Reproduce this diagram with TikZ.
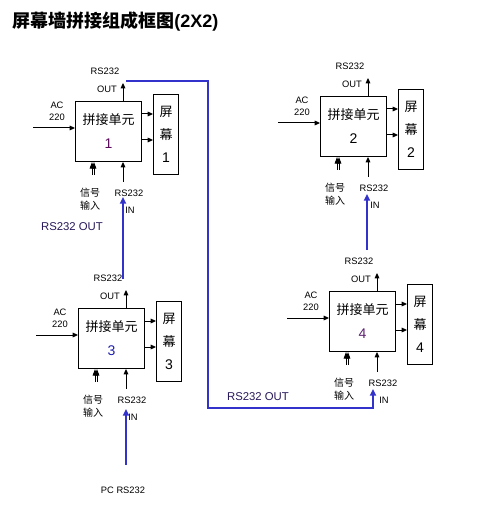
\documentclass[tikz,border=0pt]{standalone}
\usepackage{fontspec}
\setmainfont{Liberation Sans}
\newfontfamily\cjk{Noto Sans CJK SC}
\usetikzlibrary{arrows.meta,positioning}
\definecolor{busblue}{RGB}{51,51,204}
\definecolor{navytext}{RGB}{40,24,90}
\definecolor{numA}{RGB}{90,10,90}
\definecolor{numC}{RGB}{30,30,170}
\definecolor{numD}{RGB}{90,30,110}

\begin{document}
\begin{tikzpicture}[x=0.75pt,y=-0.75pt,
  every node/.style={inner sep=0pt},
  unit/.style={draw,line width=0.75pt,minimum width=49.5pt,minimum height=45pt,
    align=center,font=\cjk\fontsize{9.75}{18}\selectfont},
  screen/.style={draw,line width=0.75pt,minimum width=18.75pt,minimum height=60pt,
    align=center,font=\cjk\fontsize{9.75}{17}\selectfont},
  lbl/.style={font=\fontsize{7}{9}\selectfont,align=center},
  siglbl/.style={font=\cjk\fontsize{7.5}{10}\selectfont,align=center},
  arr/.style={line width=0.75pt,-{Triangle[length=4pt,width=3.5pt]}},
  arrback/.style={line width=0.75pt,{Triangle[length=4pt,width=3.5pt]}-},
  sigarr/.style={line width=0.75pt,{Triangle[length=5pt,width=3.5pt]}-},
  bus/.style={draw=busblue,line width=1.5pt},
  busarr/.style={bus,-{Triangle[length=5pt,width=4.5pt]}}]
\useasboundingbox (0,0) rectangle (479,506);

% title
\node[anchor=west,font=\cjk\bfseries\fontsize{13.5}{16}\selectfont] (title) at (12,22)
  {屏幕墙拼接组成框图{\rmfamily(2X2)}};

% units and screens
\foreach \n/\x/\y/\c in {1/75/101/numA, 2/320/96/black, 3/78/308/numC, 4/329/291/numD} {
  \node[unit,anchor=north west] (u\n) at (\x,\y)
    {拼接单元\\{\rmfamily\fontsize{10.5}{18}\selectfont\color{\c}\n}};
  \node[screen,anchor=north west] (s\n) at ([xshift=8.25pt,yshift=5.25pt]u\n.north east)
    {屏\\幕\\{\rmfamily\fontsize{10.5}{17}\selectfont\n}};
  % labels
  \node[lbl] (rsout\n) at ([xshift=22.5pt,yshift=22.5pt]u\n.north west) {RS232};
  \node[lbl] (out\n) at ([xshift=24pt,yshift=9pt]u\n.north west) {OUT};
  \node[lbl] (ac\n) at ([xshift=-13.5pt,yshift=-7.5pt]u\n.north west) {AC\\220};
  \node[siglbl] (sig\n) at ([xshift=11.25pt,yshift=-27.75pt]u\n.south west) {信号\\输入};
  \node[lbl] (rsin\n) at ([xshift=40.5pt,yshift=-23.25pt]u\n.south west) {RS232};
  \node[lbl] (in\n) at ([xshift=41.25pt,yshift=-36pt]u\n.south west) {IN};
  % arrows
  \draw[arr] ([xshift=36pt]u\n.north west) -- ++(0,-18);
  \draw[arrback] ([yshift=-20.25pt]u\n.north west) -- ++(-42,0);
  \draw[sigarr] ([xshift=12.75pt]u\n.south west) -- ++(0,13);
  \draw[sigarr] ([xshift=14.25pt]u\n.south west) -- ++(0,13);
  \draw[arrback] ([xshift=36pt]u\n.south west) -- ++(0,20);
  \path ([yshift=-9.75pt]u\n.north east) coordinate (pa\n)
        ([yshift=-29.25pt]u\n.north east) coordinate (pb\n);
  \draw[arr] (pa\n) -- (pa\n -| s\n.west);
  \draw[arr] (pb\n) -- (pb\n -| s\n.west);
}

% RS232 chain
\node[lbl] (pc) at (123,490) {PC RS232};
\node[font=\fontsize{8.5}{10}\selectfont,text=navytext] (busout1) at (72,227) {RS232 OUT};
\node[font=\fontsize{8.5}{10}\selectfont,text=navytext] (busout2) at (258,397) {RS232 OUT};
\coordinate (pcsrc) at (126,465);
\coordinate (bin3) at (126,409);
\coordinate (bout3) at (123,279);
\coordinate (bin1) at (123,197);
\coordinate (bout4) at (367,250);
\coordinate (bin2) at (367,194);
\coordinate (bout1) at (126,81);
\coordinate (bin4) at (373,389);
\draw[busarr] (pcsrc) -- (bin3);
\draw[busarr] (bout3) -- (bin1);
\draw[busarr] (bout4) -- (bin2);
\draw[busarr] (bout1) -- (208,81) -- (208,408) -| (bin4);

\end{tikzpicture}
\end{document}
